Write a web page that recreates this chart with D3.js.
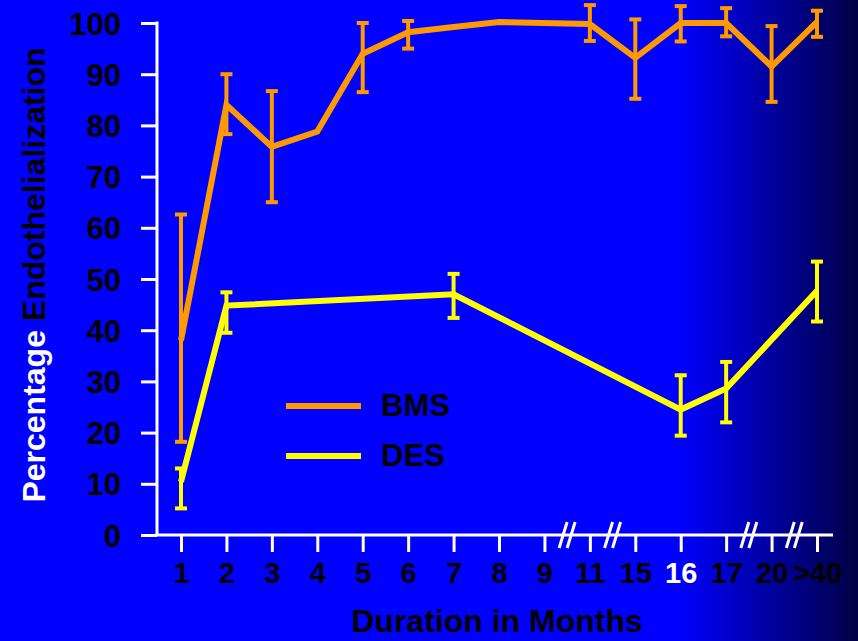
<!DOCTYPE html>
<html>
<head>
<meta charset="utf-8">
<script src="https://cdn.jsdelivr.net/npm/d3@7"></script>
<style>
  body { margin: 0; background: #0000ff; }
  svg text { font-family: "Liberation Sans", Arial, sans-serif; font-weight: bold; }
</style>
</head>
<body>
<div id="chart"></div>
<script>
// categories on the x axis (not evenly spaced in time, hence the break marks)
const months = ["1", "2", "3", "4", "5", "6", "7", "8", "9", "11", "15", "16", "17", "20", ">40"];
const breakAfter = ["9", "11", "17", "20"];
const highlightMonth = "16";
const yTicks = [0, 10, 20, 30, 40, 50, 60, 70, 80, 90, 100];

// BMS series (null = no error bar drawn)
const bmsMonths = ["1", "2", "3", "4", "5", "6", "7", "8", "11", "15", "16", "17", "20", ">40"];
const bmsMean = [38, 84, 75.8, 78.8, 94, 98.2, 99.2, 100.2, 99.8, 93.2, 100, 100, 91.5, 100.2];
const bmsLow = [18.2, 78.3, 65, null, 86.5, 95, null, null, 96.5, 85.2, 96.4, 97.4, 84.6, 97.3];
const bmsHigh = [62.6, 90, 86.7, null, 100, 100.4, null, null, 103.5, 100.7, 103.3, 102.9, 99.4, 102.4];

// DES series
const desMonths = ["1", "2", "7", "16", "17", ">40"];
const desMean = [10.4, 44.8, 47, 24.5, 28.6, 47.7];
const desLow = [5.2, 39.5, 42.4, 19.4, 22, 41.7];
const desHigh = [13, 47.4, 51, 31.2, 33.8, 53.4];

const width = 858, height = 641;
const orange = "#ff9900", yellow = "#ffff00";

const svg = d3.select("#chart").append("svg")
    .attr("width", width)
    .attr("height", height);

// background: plain blue fading to navy on the right
const grad = svg.append("defs").append("linearGradient")
    .attr("id", "bg")
    .attr("x1", 0).attr("x2", 1).attr("y1", 0).attr("y2", 0);
grad.append("stop").attr("offset", 0).attr("stop-color", "#0000ff");
grad.append("stop").attr("offset", 0.79).attr("stop-color", "#0000ff");
grad.append("stop").attr("offset", 1).attr("stop-color", "#000046");
svg.append("rect").attr("width", width).attr("height", height).attr("fill", "url(#bg)");

const x = d3.scalePoint().domain(months).range([181, 817]);
const y = d3.scaleLinear().domain([0, 100]).range([535, 23]);
const x0 = 157;

// y axis
const yAxis = svg.append("g")
    .attr("transform", "translate(" + x0 + ",0)")
    .call(d3.axisLeft(y).tickValues(yTicks).tickSize(16).tickPadding(20));
yAxis.select(".domain").remove();
yAxis.selectAll(".tick line").attr("stroke", "#fff").attr("stroke-width", 3);
yAxis.selectAll(".tick text").attr("fill", "#000").attr("font-size", 31)
    .attr("font-family", null).attr("dy", "0.36em");
svg.append("line")
    .attr("x1", x0).attr("x2", x0)
    .attr("y1", y(100) - 1.5).attr("y2", y(0))
    .attr("stroke", "#fff").attr("stroke-width", 3);

// x axis
const xAxis = svg.append("g")
    .attr("transform", "translate(0," + y(0) + ")")
    .call(d3.axisBottom(x).tickSize(17).tickPadding(10));
xAxis.select(".domain").remove();
xAxis.selectAll(".tick line").attr("stroke", "#fff").attr("stroke-width", 3);
xAxis.selectAll(".tick text")
    .attr("fill", d => d === highlightMonth ? "#fff" : "#000")
    .attr("font-size", 29)
    .attr("font-family", null)
    .attr("dy", "0.72em");
svg.append("line")
    .attr("x1", x0 - 1.5).attr("x2", 833)
    .attr("y1", y(0)).attr("y2", y(0))
    .attr("stroke", "#fff").attr("stroke-width", 3);

// axis break marks "//"
breakAfter.forEach(function (m) {
    const i = months.indexOf(m);
    const cx = (x(months[i]) + x(months[i + 1])) / 2;
    [-4, 4].forEach(function (off) {
        svg.append("line")
            .attr("x1", cx + off - 4).attr("y1", y(0) + 13)
            .attr("x2", cx + off + 4).attr("y2", y(0) - 13)
            .attr("stroke", "#fff").attr("stroke-width", 3);
    });
});

// draws a series line plus its error bars
function drawSeries(ms, mean, low, high, color) {
    const pts = ms.map((m, i) => ({m: m, v: mean[i], lo: low[i], hi: high[i]}));
    const line = d3.line().x(d => x(d.m)).y(d => y(d.v));
    const g = svg.append("g");
    const bars = pts.filter(d => d.lo != null);
    g.selectAll(".eb").data(bars).enter().append("line")
        .attr("x1", d => x(d.m)).attr("x2", d => x(d.m))
        .attr("y1", d => y(d.lo)).attr("y2", d => y(d.hi))
        .attr("stroke", color).attr("stroke-width", 4);
    ["lo", "hi"].forEach(function (k) {
        g.selectAll(".cap-" + k).data(bars).enter().append("line")
            .attr("x1", d => x(d.m) - 6).attr("x2", d => x(d.m) + 6)
            .attr("y1", d => y(d[k])).attr("y2", d => y(d[k]))
            .attr("stroke", color).attr("stroke-width", 4);
    });
    g.append("path").datum(pts)
        .attr("d", line)
        .attr("fill", "none")
        .attr("stroke", color)
        .attr("stroke-width", 6)
        .attr("stroke-linejoin", "miter");
}

drawSeries(bmsMonths, bmsMean, bmsLow, bmsHigh, orange);
drawSeries(desMonths, desMean, desLow, desHigh, yellow);

// legend
const legend = [{name: "BMS", color: orange, y: 406}, {name: "DES", color: yellow, y: 456}];
legend.forEach(function (d) {
    svg.append("line")
        .attr("x1", 286).attr("x2", 361)
        .attr("y1", d.y).attr("y2", d.y)
        .attr("stroke", d.color).attr("stroke-width", 6);
    svg.append("text")
        .attr("x", 381).attr("y", d.y + 10)
        .attr("font-size", 31)
        .attr("fill", "#000")
        .text(d.name);
});

// axis titles
svg.append("text")
    .attr("x", 497).attr("y", 632)
    .attr("text-anchor", "middle")
    .attr("font-size", 32)
    .attr("fill", "#000")
    .text("Duration in Months");

const yt = svg.append("text")
    .attr("transform", "translate(45,275) rotate(-90)")
    .attr("text-anchor", "middle")
    .attr("font-size", 32);
yt.append("tspan").attr("fill", "#fff").text("Percentage ");
yt.append("tspan").attr("fill", "#000").text("Endothelialization");
</script>
</body>
</html>
